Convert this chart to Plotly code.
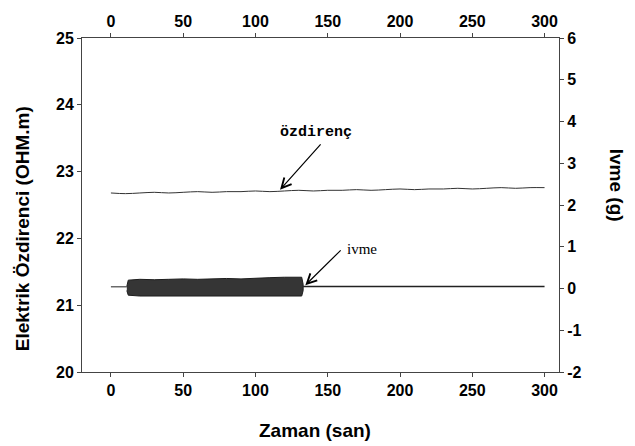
import plotly.graph_objects as go

# ---- data ----
time_res = list(range(0, 301, 10))
resistivity = [22.68, 22.67, 22.68, 22.69, 22.68, 22.69, 22.70, 22.69, 22.70, 22.70,
               22.71, 22.70, 22.71, 22.72, 22.71, 22.72, 22.72, 22.73, 22.72, 22.73,
               22.74, 22.73, 22.74, 22.74, 22.75, 22.74, 22.75, 22.76, 22.75, 22.76, 22.76]

acc_pre_t = [0, 11]
acc_pre_v = [0.04, 0.04]
acc_post_t = [133, 300]
acc_post_v = [0.05, 0.05]

band_t = [11, 12, 20, 30, 40, 50, 60, 70, 80, 90, 100, 110, 120, 132, 133]
band_upper = [0.05, 0.20, 0.22, 0.21, 0.22, 0.23, 0.22, 0.23, 0.24, 0.23, 0.25, 0.26, 0.27, 0.27, 0.10]
band_lower = [-0.05, -0.16, -0.18, -0.18, -0.17, -0.18, -0.18, -0.17, -0.18, -0.18, -0.17, -0.18, -0.18, -0.18, -0.05]

x_ticks = [0, 50, 100, 150, 200, 250, 300]
y_left_ticks = [20, 21, 22, 23, 24, 25]
y_right_ticks = [-2, -1, 0, 1, 2, 3, 4, 5, 6]
y_right_labels = ["-2", "-1", "0", "1", "2", "3", "4", "5", "6"]

FONT = "Liberation Sans"
AX = "#444444"

fig = go.Figure()

fig.add_trace(go.Scatter(x=time_res, y=resistivity, mode="lines",
                         line=dict(color="#333333", width=1, shape="spline"),
                         xaxis="x", yaxis="y", showlegend=False))

fig.add_trace(go.Scatter(x=band_t + band_t[::-1], y=band_upper + band_lower[::-1],
                         mode="lines", fill="toself", fillcolor="#353535",
                         line=dict(color="#1e1e1e", width=1),
                         xaxis="x", yaxis="y2", showlegend=False))
fig.add_trace(go.Scatter(x=acc_pre_t, y=acc_pre_v, mode="lines",
                         line=dict(color="#222222", width=1),
                         xaxis="x", yaxis="y2", showlegend=False))
fig.add_trace(go.Scatter(x=acc_post_t, y=acc_post_v, mode="lines",
                         line=dict(color="#222222", width=1.5),
                         xaxis="x", yaxis="y2", showlegend=False))

tickfont = dict(family=FONT, size=16, color="black", weight="bold")
common = dict(showgrid=False, zeroline=False, showline=True, linecolor=AX, linewidth=1,
              ticks="outside", ticklen=4, tickcolor=AX, tickfont=tickfont)

fig.update_layout(
    width=635, height=446,
    margin=dict(l=82, r=76, t=38, b=74),
    paper_bgcolor="white", plot_bgcolor="white",
    xaxis=dict(range=[-20, 310], tickvals=x_ticks, **common),
    xaxis2=dict(range=[-20, 310], tickvals=x_ticks, overlaying="x", side="top",
                anchor="y", **common),
    yaxis=dict(range=[20, 25], tickvals=y_left_ticks, **common),
    yaxis2=dict(range=[-2, 6], tickvals=y_right_ticks, ticktext=y_right_labels,
                overlaying="y", side="right", anchor="x", **common),
)

# dummy trace to activate top axis
fig.add_trace(go.Scatter(x=[None], y=[None], xaxis="x2", yaxis="y", showlegend=False))

titlefont = dict(family=FONT, size=19, color="black", weight="bold")
fig.add_annotation(text="Zaman (san)", xref="paper", yref="paper", x=0.488, y=-0.174,
                   showarrow=False, font=titlefont, xanchor="center", yanchor="middle")
fig.add_annotation(text="Elektrik Özdirenci (OHM.m)", xref="paper", yref="paper",
                   x=-0.124, y=0.43, textangle=-90, showarrow=False, font=titlefont,
                   xanchor="center", yanchor="middle")
fig.add_annotation(text="Ivme (g)", xref="paper", yref="paper",
                   x=1.12, y=0.56, textangle=90, showarrow=False, font=titlefont,
                   xanchor="center", yanchor="middle")

fig.add_annotation(text="<b>özdirenç</b>", x=142, y=23.59, xref="x", yref="y", showarrow=False,
                   font=dict(family="Liberation Mono", size=15, color="black"))
fig.add_annotation(x=117, y=22.73, ax=146, ay=23.43, xref="x", yref="y",
                   axref="x", ayref="y", text="", showarrow=True,
                   arrowhead=5, arrowsize=1.6, arrowwidth=1.2, arrowcolor="black")

fig.add_annotation(text="ivme", x=162, y=0.95, xref="x", yref="y2", showarrow=False,
                   xanchor="left", font=dict(family="Liberation Serif", size=15, color="black"))
fig.add_annotation(x=134.5, y=0.08, ax=160, ay=0.95, xref="x", yref="y2",
                   axref="x", ayref="y2", text="", showarrow=True,
                   arrowhead=5, arrowsize=1.6, arrowwidth=1.2, arrowcolor="black")

fig.write_html("out.html")
